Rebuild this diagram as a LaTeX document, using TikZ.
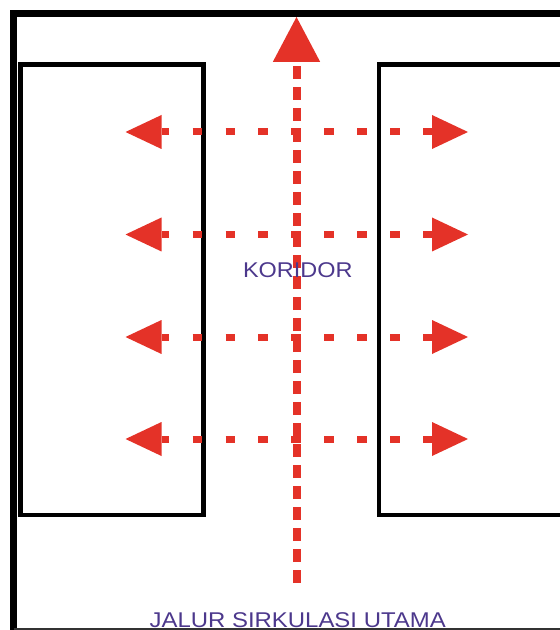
\documentclass[tikz,border=0pt]{standalone}
\usepackage{fontspec}
\setmainfont{Liberation Sans}
\usetikzlibrary{arrows.meta}
\definecolor{flowred}{RGB}{228,50,40}
\definecolor{roomblue}{RGB}{76,56,140}
\tikzset{
  outerwall/.style={line width=5.2pt, black},
  wall/.style={line width=3.2pt, black},
  mainflow/.style={line width=6pt, flowred, dash pattern=on 10.1pt off 5.65pt,
    -{Triangle[length=33.75pt,width=35.6pt,line width=0pt]}},
  sideflow/.style={line width=5.25pt, flowred, dash pattern=on 7.1pt off 17.6pt, dash phase=1.4pt,
    {Triangle[length=27pt,width=25.5pt,line width=0pt]}-{Triangle[length=27pt,width=25.5pt,line width=0pt]}},
  roomtext/.style={roomblue, font=\fontsize{16}{18}\selectfont, xscale=1.1, anchor=base, inner sep=0pt}
}
\begin{document}
\begin{tikzpicture}[x=0.75pt,y=-0.75pt]
    \useasboundingbox (0,0) rectangle (559,630);
    % Outer building line
    \draw[outerwall] (13.5,640) -- (13.5,13.5) -- (570,13.5);
    \draw[line width=1.2pt, black!80] (13.5,629) -- (570,629);
    % Rooms
    \draw[wall] (20.5,64.5) rectangle (203.5,515);
    \draw[wall] (570,64.5) -- (379,64.5) -- (379,515) -- (570,515);
    % Main circulation
    \coordinate (main-s) at (296.5,583);
    \coordinate (main-e) at (296.5,17);
    \draw[mainflow] (main-s) -- (main-e);
    % Side circulation
    \foreach \i/\y in {1/132,2/234.5,3/337,4/439} {
        \coordinate (side-l\i) at (125.5,\y);
        \coordinate (side-r\i) at (468,\y);
        \draw[sideflow] (side-l\i) -- (side-r\i);
    }
    % Labels
    \node[roomtext] (koridor) at (297.8,277.3) {KORIDOR};
    \node[roomtext, xscale=1.02] (jalur) at (297.7,627) {JALUR SIRKULASI UTAMA};
\end{tikzpicture}
\end{document}
